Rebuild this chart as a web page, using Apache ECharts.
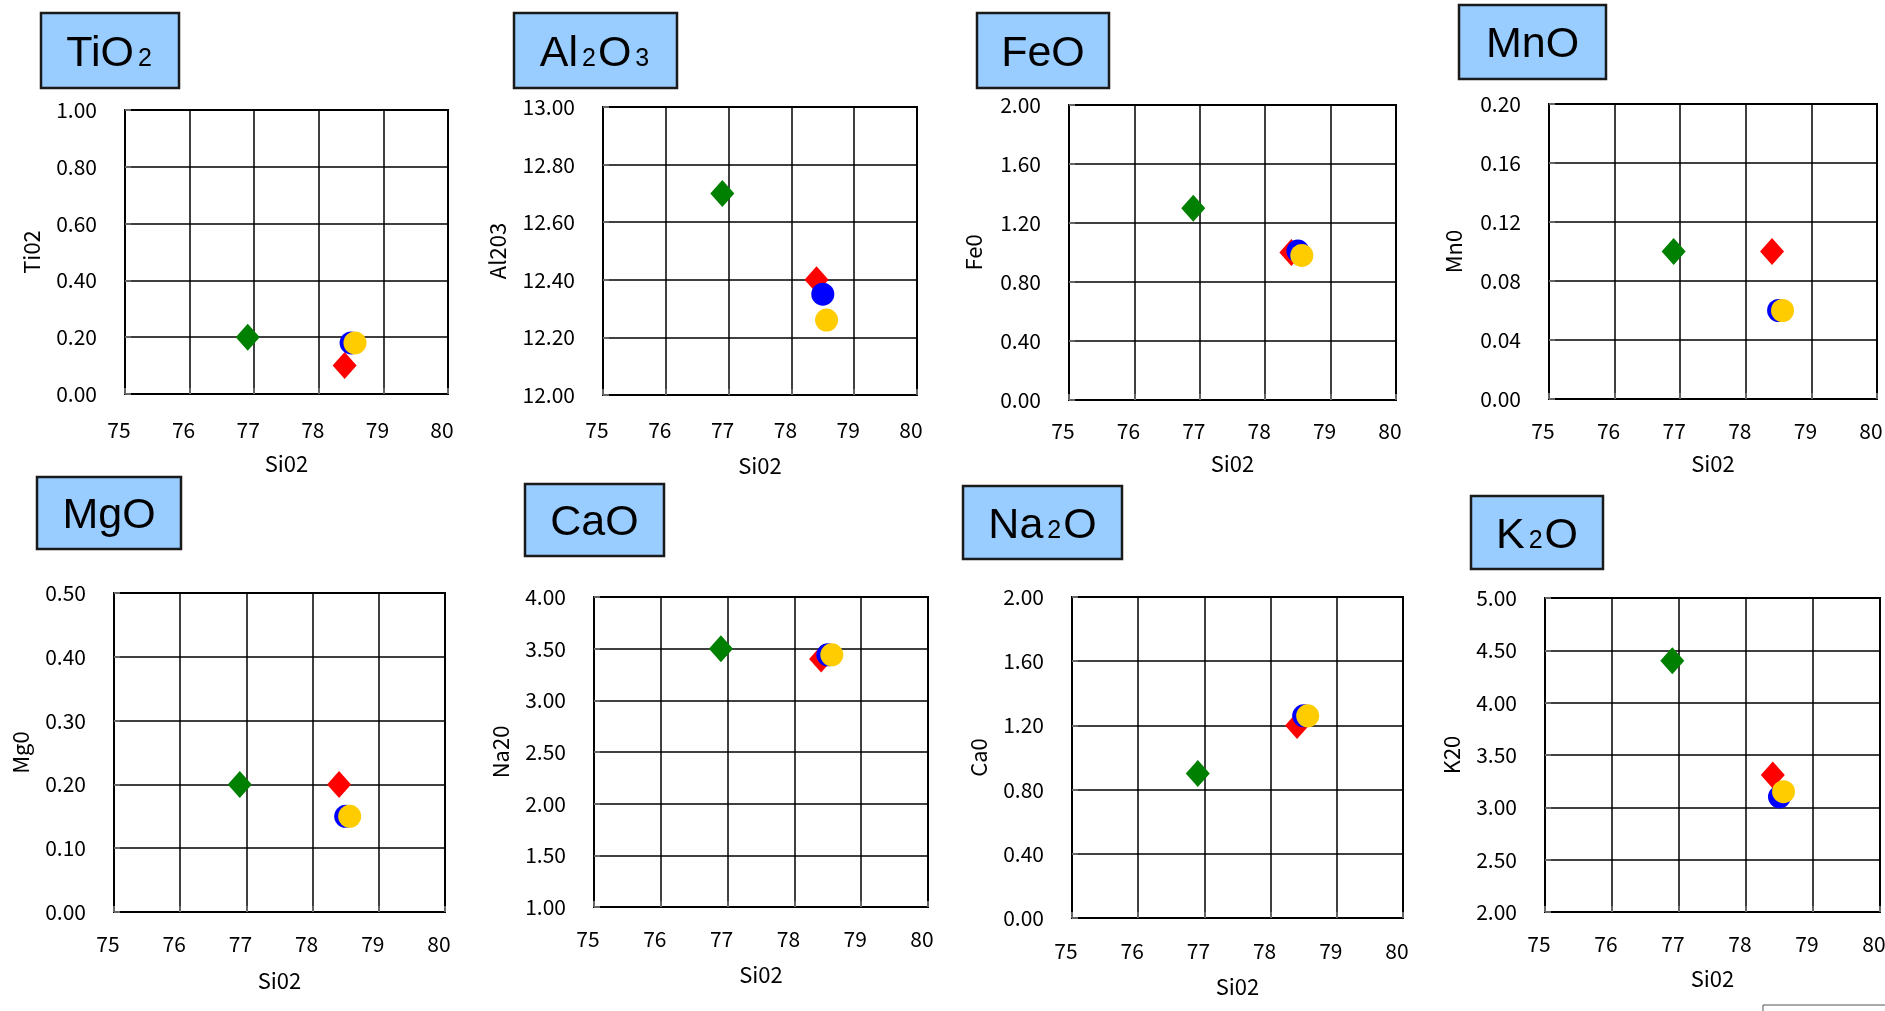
<!DOCTYPE html>
<html>
<head>
<meta charset="utf-8">
<title>SiO2 variation diagrams</title>
<script src="https://cdn.jsdelivr.net/npm/echarts@6/dist/echarts.min.js"></script>
<style>
  html, body { margin: 0; padding: 0; background: #fff; }
  #chart { width: 1885px; height: 1011px; }
</style>
</head>
<body>
<div id="chart"></div>
<script>
// SiO2 of the four samples: green, red, blue, yellow
var sio2 = [76.9, 78.4, 78.5, 78.56];

// oxide values, same sample order
var tio2  = [0.20, 0.10, 0.18, 0.18];
var al2o3 = [12.70, 12.40, 12.35, 12.26];
var feo   = [1.30, 1.00, 1.01, 0.98];
var mno   = [0.10, 0.10, 0.06, 0.06];
var mgo   = [0.20, 0.20, 0.15, 0.15];
var na2o  = [3.50, 3.40, 3.44, 3.44];
var cao   = [0.90, 1.20, 1.26, 1.26];
var k2o   = [4.40, 3.31, 3.10, 3.15];

// axis ticks
var xMin = 75, xMax = 80, xStep = 1;
var yMin  = [0, 12, 0, 0, 0, 1, 0, 2];
var yMax  = [1, 13, 2, 0.2, 0.5, 4, 2, 5];
var yStep = [0.2, 0.2, 0.4, 0.04, 0.1, 0.5, 0.4, 0.5];

// texts (panel 6 / 7 titles are as in the original sheet)
var panelTitles = ['{n|TiO}{s|2}', '{n|Al}{s|2}{n|O}{s|3}', '{n|FeO}', '{n|MnO}',
                   '{n|MgO}', '{n|CaO}', '{n|Na}{s|2}{n|O}', '{n|K}{s|2}{n|O}'];
var yNames = ['Ti02', 'Al203', 'Fe0', 'Mn0', 'Mg0', 'Na20', 'Ca0', 'K20'];
var xName = 'Si02';

var panelValues = [tio2, al2o3, feo, mno, mgo, na2o, cao, k2o];

// layout (px): plot rects and title boxes
var grids = [
  [125, 110, 323, 284], [603, 107, 314, 288], [1069, 105, 327, 295], [1549, 104, 328, 295],
  [114, 593, 331, 319], [594, 597, 334, 310], [1072, 597, 331, 321], [1545, 598, 335, 314]
];
var boxes = [
  [41, 13, 138, 75], [514, 13, 163, 75], [977, 13, 132, 75], [1459, 5, 147, 74],
  [37, 477, 144, 72], [525, 484, 139, 72], [963, 486, 159, 73], [1471, 496, 132, 73]
];
var yNameGap = [82, 94, 84, 84, 82, 82, 82, 82];
var xNameGap = [59, 60, 53, 54, 58, 57, 58, 56];
var xLabelMargin = [26, 25, 21, 22, 22, 22, 23, 22];

var markers = [
  { color: '#008000', symbol: 'diamond', size: [24, 27] },
  { color: '#ff0000', symbol: 'diamond', size: [24, 27] },
  { color: '#0000ff', symbol: 'circle', size: 23 },
  { color: '#ffcc00', symbol: 'circle', size: 23 }
];

var axisFont = '"Noto Sans CJK JP"';

var myChart = echarts.init(document.getElementById('chart'));

var gridList = [], xAxes = [], yAxes = [], seriesList = [], graphics = [];

for (var p = 0; p < 8; p++) {
  var g = grids[p];
  gridList.push({
    left: g[0], top: g[1], width: g[2], height: g[3],
    show: true, borderColor: '#000', borderWidth: 2,
    outerBoundsMode: 'none'
  });
  xAxes.push({
    gridIndex: p, type: 'value', min: xMin, max: xMax, interval: xStep,
    name: xName, nameLocation: 'middle', nameGap: xNameGap[p],
    nameTextStyle: { fontFamily: axisFont, fontSize: 22, color: '#000' },
    axisLine: { lineStyle: { color: '#000', width: 2 } },
    axisTick: { inside: true, length: 6, lineStyle: { color: '#666', width: 2 } },
    axisLabel: { fontFamily: axisFont, fontSize: 21, color: '#000', margin: xLabelMargin[p], padding: [0, 12, 0, 0] },
    splitLine: { show: true, lineStyle: { color: '#000', width: 1.5 } }
  });
  yAxes.push({
    gridIndex: p, type: 'value', min: yMin[p], max: yMax[p], interval: yStep[p],
    name: yNames[p], nameLocation: 'middle', nameGap: yNameGap[p],
    nameTextStyle: { fontFamily: axisFont, fontSize: 22, color: '#000' },
    axisLine: { lineStyle: { color: '#000', width: 2 } },
    axisTick: { inside: true, length: 6, lineStyle: { color: '#666', width: 2 } },
    axisLabel: {
      fontFamily: axisFont, fontSize: 21, color: '#000', margin: 28,
      formatter: function (v) { return v.toFixed(2); }
    },
    splitLine: { show: true, lineStyle: { color: '#000', width: 1.5 } }
  });
  for (var s = 0; s < 4; s++) {
    seriesList.push({
      type: 'scatter', xAxisIndex: p, yAxisIndex: p, silent: true,
      symbol: markers[s].symbol, symbolSize: markers[s].size,
      itemStyle: { color: markers[s].color, opacity: 1 },
      data: [[sio2[s], panelValues[p][s]]]
    });
  }
  var b = boxes[p];
  graphics.push({
    type: 'rect', shape: { x: b[0], y: b[1], width: b[2], height: b[3] },
    style: { fill: '#99ccff', stroke: '#1a1a1a', lineWidth: 2.5 }
  });
  graphics.push({
    type: 'text', x: b[0] + b[2] / 2, y: b[1] + b[3] / 2 + 3,
    style: {
      text: panelTitles[p], align: 'center', verticalAlign: 'middle',
      rich: {
        n: { fontFamily: 'Liberation Sans', fontSize: 43, lineHeight: 44, color: '#000', verticalAlign: 'bottom' },
        s: { fontFamily: 'Liberation Sans', fontSize: 25, lineHeight: 30, color: '#000', verticalAlign: 'bottom', padding: [0, 2, 4, 4] }
      }
    }
  });
}

// cut-off box at the lower right corner
graphics.push({
  type: 'rect', shape: { x: 1763, y: 1005, width: 200, height: 40 },
  style: { fill: '#fff', stroke: '#555', lineWidth: 1 }
});

myChart.setOption({
  backgroundColor: '#fff',
  animation: false,
  grid: gridList,
  xAxis: xAxes,
  yAxis: yAxes,
  series: seriesList,
  graphic: graphics
});
</script>
</body>
</html>
